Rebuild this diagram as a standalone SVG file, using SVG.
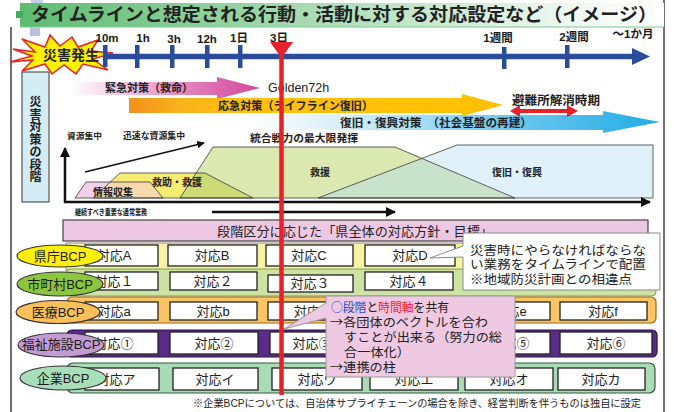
<svg xmlns="http://www.w3.org/2000/svg" width="674" height="412" viewBox="0 0 674 412">
<defs>
  <linearGradient id="gTitle" x1="0" y1="0" x2="1" y2="0">
    <stop offset="0" stop-color="#5dbb70"/>
    <stop offset="0.45" stop-color="#a9dbb3"/>
    <stop offset="0.85" stop-color="#eef8f0"/>
    <stop offset="1" stop-color="#ffffff"/>
  </linearGradient>
  <linearGradient id="gKin" gradientUnits="userSpaceOnUse" x1="70" y1="0" x2="260" y2="0">
    <stop offset="0" stop-color="#ffffff"/>
    <stop offset="0.3" stop-color="#f2c2dd"/>
    <stop offset="0.7" stop-color="#df74b5"/>
    <stop offset="1" stop-color="#d4479d"/>
  </linearGradient>
  <linearGradient id="gOu" gradientUnits="userSpaceOnUse" x1="129" y1="0" x2="503" y2="0">
    <stop offset="0" stop-color="#f2901e"/>
    <stop offset="0.15" stop-color="#fab51a"/>
    <stop offset="0.35" stop-color="#fec10c"/>
    <stop offset="1" stop-color="#ffc000"/>
  </linearGradient>
  <linearGradient id="gFu" gradientUnits="userSpaceOnUse" x1="250" y1="0" x2="660" y2="0">
    <stop offset="0" stop-color="#ffffff"/>
    <stop offset="0.25" stop-color="#d2ecf8"/>
    <stop offset="0.6" stop-color="#74caef"/>
    <stop offset="1" stop-color="#22ade5"/>
  </linearGradient>
  <marker id="ah" viewBox="0 0 10 10" refX="9" refY="5" markerWidth="4" markerHeight="4" orient="auto">
    <path d="M0,0 L10,5 L0,10 z" fill="#111"/>
  </marker>
  <marker id="ah2" viewBox="0 0 10 10" refX="9" refY="5" markerWidth="5" markerHeight="5" orient="auto">
    <path d="M0,0 L10,5 L0,10 z" fill="#111"/>
  </marker>
</defs>
<style>
  text { font-family: "Liberation Sans", "Noto Sans CJK JP", sans-serif; fill: #222; }
  .cjk { font-family: "Noto Sans CJK JP", sans-serif; }
  .b { font-weight: bold; }
  .box { fill: #ffffff; stroke: #222; stroke-width: 1.3; }
  .bt { font-size: 13px; text-anchor: middle; }
  .ell { stroke: #333; stroke-width: 1.2; }
  .et { font-size: 13px; text-anchor: middle; fill: #1a1a1a; }
  .tick { fill: #2b4c9b; }
  .tl { font-size: 11.5px; font-weight: bold; text-anchor: middle; fill: #1a1a1a; }
  .shp { stroke: #3a3a3a; stroke-width: 0.8; fill: none; }
  .sl { font-size: 10px; font-weight: bold; text-anchor: middle; fill: #222; }
  .ax { stroke: #111; fill: none; }
</style>

<rect x="0" y="0" width="674" height="412" fill="#ffffff"/>

<!-- frame -->
<g id="frame">
  <line x1="11" y1="27" x2="11" y2="412" stroke="#111" stroke-width="1.2"/>
  <line x1="664" y1="0" x2="664" y2="412" stroke="#111" stroke-width="1.2"/>
</g>

<!-- title -->
<g id="title">
  <rect x="31" y="0" width="12" height="8" fill="#c9cde6"/>
  <rect x="20" y="3" width="644" height="24" fill="url(#gTitle)"/>
  <line x1="20" y1="27" x2="664" y2="27" stroke="#7cc88c" stroke-width="1"/>
  <rect x="30" y="27" width="10" height="9" fill="#b9c3dc"/>
  <rect x="16" y="11" width="7" height="7" fill="#3fae5a"/>
  <text x="31" y="21" class="b" font-size="18" fill="#1a1a3a" textLength="626" lengthAdjust="spacingAndGlyphs">タイムラインと想定される行動・活動に対する対応設定など（イメージ）</text>
</g>

<!-- disaster star -->
<g id="disaster">
  <polygon points="13,49 35,52 22,39 45,47 50,35 60,46 72,37 78,47 98,40 91,51 113,53 93,59 108,70 83,64 76,74 64,65 52,74 45,64 22,71 33,60 10,62 32,56" fill="#fff200" stroke="#e8202a" stroke-width="1.5" stroke-linejoin="miter"/>
  <text x="71" y="60" class="b" font-size="14" text-anchor="middle" fill="#1a1a1a">災害発生</text>
</g>

<!-- timeline -->
<g id="timeline">
  <line x1="105" y1="56.5" x2="634" y2="56.5" stroke="#2b4c9b" stroke-width="5.5"/>
  <polygon points="632,48 650,56.5 632,65" fill="#2b4c9b"/>
  <rect class="tick" x="103" y="45" width="4.5" height="22"/>
  <rect class="tick" x="135" y="45" width="4.5" height="23"/>
  <rect class="tick" x="170" y="45" width="4.5" height="23"/>
  <rect class="tick" x="205" y="45" width="4.5" height="23"/>
  <rect class="tick" x="238" y="45" width="4.5" height="23"/>
  <rect class="tick" x="502" y="47" width="4.5" height="22"/>
  <rect class="tick" x="565" y="45" width="4.5" height="23"/>
  <text class="tl" x="107" y="42">10m</text>
  <text class="tl" x="143" y="42">1h</text>
  <text class="tl" x="174" y="43">3h</text>
  <text class="tl" x="207" y="43">12h</text>
  <text class="tl" x="239" y="42">1日</text>
  <text class="tl" x="279" y="42">3日</text>
  <text class="tl" x="498" y="42">1週間</text>
  <text class="tl" x="574" y="41">2週間</text>
  <text class="tl" x="633" y="38">～1か月</text>
</g>

<!-- sidebar -->
<g id="sidebar">
  <rect x="22" y="72" width="27" height="130" fill="#d4ecf4" stroke="#555" stroke-width="1.2"/>
  <g class="b" font-size="12" text-anchor="middle">
    <text x="35.5" y="106" fill="#3a4660">災</text>
    <text x="35.5" y="119" fill="#3a4660">害</text>
    <text x="35.5" y="131" fill="#3a4660">対</text>
    <text x="35.5" y="144" fill="#3a4660">策</text>
    <text x="35.5" y="156" fill="#3a4660">の</text>
    <text x="35.5" y="169" fill="#3a4660">段</text>
    <text x="35.5" y="181" fill="#3a4660">階</text>
  </g>
</g>

<!-- phase arrows -->
<g id="phase-fukkyu">
  <path d="M250,115 L603,115 L603,111 L660,122 L603,133 L603,130 L250,130 Z" fill="url(#gFu)"/>
  <text x="340" y="126.5" class="b" font-size="11.5" textLength="192" lengthAdjust="spacingAndGlyphs">復旧・復興対策　（社会基盤の再建）</text>
</g>
<g id="phase-kinkyu">
  <path d="M70,82 L217,82 L217,77 L260,88 L217,99 L217,95 L70,95 Z" fill="url(#gKin)"/>
  <text x="105" y="92" class="b" font-size="11" textLength="88" lengthAdjust="spacingAndGlyphs" fill="#333">緊急対策（救命）</text>
</g>
<g id="golden">
  <text x="268" y="92" font-size="12.5" fill="#1a1a1a">Golden72h</text>
</g>
<g id="phase-oukyu">
  <path d="M129,98 L462,98 L462,94 L503,105 L462,116 L462,113 L129,113 Z" fill="url(#gOu)"/>
  <text x="218" y="109.5" class="b" font-size="11.5" textLength="155" lengthAdjust="spacingAndGlyphs" fill="#2a2a2a">応急対策（ライフライン復旧）</text>
</g>
<g id="hinan">
  <text x="512" y="104.5" class="b" font-size="12.5" textLength="88" lengthAdjust="spacingAndGlyphs" fill="#1a1a1a">避難所解消時期</text>
  <path d="M510,111 L520,105 L520,109 L567,109 L567,105 L578,111 L567,117 L567,113 L520,113 L520,117 Z" fill="#e8202a"/>
</g>

<!-- stage labels -->
<g id="stage-labels">
  <text x="67" y="139" class="b" font-size="8.5" textLength="35" lengthAdjust="spacingAndGlyphs">資源集中</text>
  <text x="123" y="139" class="b" font-size="8.8" textLength="62" lengthAdjust="spacingAndGlyphs">迅速な資源集中</text>
  <text x="250" y="141.5" class="b" font-size="10.5" textLength="108" lengthAdjust="spacingAndGlyphs">統合戦力の最大限発揮</text>
</g>

<!-- phase shapes -->
<g id="shapes">
  <polygon points="93,198 120,173 205,173 253,198" fill="#f6ec72"/>
  <polygon points="75,198 86,182 150,182 163,198" fill="#f0d0ea"/>
  <polygon points="93,198 110.3,182 150,182 163,198" fill="#f8d9ae"/>
  <polygon points="180,198 213,147 395,147 515,198" fill="#dbe8b0"/>
  <polygon points="180,198 196.2,173 205,173 253,198" fill="#ccdb76"/>
  <polygon points="318,198 457,145 653,145 653,198" fill="#e0f1f9"/>
  <polygon points="318,198 421.8,158.4 515,198" fill="#c9e2cc"/>
  <polygon class="shp" points="93,198 120,173 205,173 253,198"/>
  <polygon class="shp" points="75,198 86,182 150,182 163,198"/>
  <polygon class="shp" points="180,198 213,147 395,147 515,198"/>
  <polygon class="shp" points="318,198 457,145 653,145 653,198"/>
  <text class="sl" x="113" y="195.5" font-size="10.5">情報収集</text>
  <text class="sl" x="177" y="185.5">救助・救護</text>
  <text class="sl" x="320" y="175.5">救援</text>
  <text class="sl" x="517" y="175.5">復旧・復興</text>
</g>

<!-- connectors: axes and arrows -->
<g id="connectors">
  <line class="ax" x1="65" y1="203" x2="65" y2="148" stroke-width="2.5" marker-end="url(#ah)"/>
  <line class="ax" x1="64" y1="202" x2="650" y2="202" stroke-width="2.5" marker-end="url(#ah)"/>
  <line class="ax" x1="85" y1="172" x2="204" y2="143" stroke-width="1.5" marker-end="url(#ah2)"/>
  <line class="ax" x1="212" y1="212" x2="395" y2="212" stroke-width="2.5" marker-end="url(#ah)"/>
</g>
<g id="keizoku">
  <text x="75" y="215" class="b" font-size="8.5" textLength="72" lengthAdjust="spacingAndGlyphs">継続すべき重要な通常業務</text>
</g>

<!-- policy box -->
<g id="policy">
  <rect x="63" y="220" width="585" height="21" fill="#eec8e2" stroke="#444" stroke-width="1.2"/>
  <text x="355" y="235.5" font-size="13" text-anchor="middle" textLength="276" lengthAdjust="spacingAndGlyphs">段階区分に応じた「県全体の対応方針・目標」</text>
</g>

<!-- row bands -->
<g id="bands">
  <rect x="66" y="243" width="590" height="27" fill="#f7f3a3" stroke="#777" stroke-width="0.8"/>
  <rect x="66" y="269" width="590" height="27" rx="4" fill="#cde3a3" stroke="#6c8a40" stroke-width="0.8"/>
  <rect x="67" y="297" width="589" height="26" rx="5" fill="#fcc463" stroke="#9a6a10" stroke-width="1.2"/>
  <rect x="67" y="330" width="590" height="27" rx="5" fill="#5c2a88" stroke="#2a1040" stroke-width="1.2"/>
  <rect x="67" y="363" width="588" height="30" rx="6" fill="#a9dbb5" stroke="#2f5c3c" stroke-width="1.2"/>
</g>

<!-- row 1 -->
<g id="row-kencho">
  <rect class="box" x="85" y="245" width="73" height="21"/><text class="bt" x="114" y="260">対応A</text>
  <rect class="box" x="168" y="245" width="89" height="21"/><text class="bt" x="212" y="260">対応B</text>
  <rect class="box" x="266" y="245" width="87" height="21"/><text class="bt" x="309" y="260">対応C</text>
  <rect class="box" x="365" y="245" width="90" height="21"/><text class="bt" x="410" y="260">対応D</text>
</g>
<!-- row 2 -->
<g id="row-shichoson">
  <rect class="box" x="85" y="272" width="73" height="18"/><text class="bt" x="114" y="285.5">対応１</text>
  <rect class="box" x="170" y="272" width="87" height="18"/><text class="bt" x="213" y="285.5">対応２</text>
  <rect class="box" x="268" y="275" width="85" height="17"/><text class="bt" x="310" y="288">対応３</text>
  <rect class="box" x="365" y="272" width="88" height="18"/><text class="bt" x="409" y="285.5">対応４</text>
</g>
<!-- row 3 -->
<g id="row-iryo">
  <rect class="box" x="85" y="302" width="73" height="18"/><text class="bt" x="114" y="315.5">対応a</text>
  <rect class="box" x="170" y="302" width="87" height="18"/><text class="bt" x="213" y="315.5">対応b</text>
  <rect class="box" x="268" y="302" width="88" height="18"/><text class="bt" x="310" y="315.5">対応c</text>
  <rect class="box" x="365" y="302" width="88" height="18"/>
  <rect class="box" x="462" y="302" width="88" height="18"/><text class="bt" x="510" y="315.5">対応e</text>
  <rect class="box" x="560" y="302" width="87" height="18"/><text class="bt" x="603" y="315.5">対応f</text>
</g>
<!-- row 4 -->
<g id="row-fukushi">
  <rect class="box" x="85" y="332" width="73" height="22"/><text class="bt" x="114" y="347.5">対応①</text>
  <rect class="box" x="170" y="332" width="88" height="22"/><text class="bt" x="214" y="347.5">対応②</text>
  <rect class="box" x="270" y="332" width="88" height="22"/><text class="bt" x="312" y="347.5">対応③</text>
  <rect class="box" x="366" y="332" width="88" height="22"/>
  <rect class="box" x="462" y="332" width="88" height="22"/><text class="bt" x="510" y="347.5">対応⑤</text>
  <rect class="box" x="560" y="332" width="92" height="22"/><text class="bt" x="606" y="347.5">対応⑥</text>
</g>
<!-- row 5 -->
<g id="row-kigyo">
  <rect class="box" x="85" y="368" width="74" height="22"/><text class="bt" x="116" y="383.5">対応ア</text>
  <rect class="box" x="173" y="368" width="85" height="22"/><text class="bt" x="215" y="383.5">対応イ</text>
  <rect class="box" x="272" y="368" width="90" height="22"/><text class="bt" x="317" y="383.5">対応ウ</text>
  <rect class="box" x="370" y="368" width="88" height="22"/><text class="bt" x="414" y="383.5">対応エ</text>
  <rect class="box" x="465" y="368" width="88" height="22"/><text class="bt" x="509" y="383.5">対応オ</text>
  <rect class="box" x="558" y="368" width="87" height="22"/><text class="bt" x="601" y="383.5">対応カ</text>
</g>

<!-- BCP ellipses -->
<g id="bcp-kencho">
  <ellipse class="ell" cx="60" cy="256" rx="43" ry="11" fill="#fff000"/>
  <text class="et" x="60" y="260.5">県庁BCP</text>
</g>
<g id="bcp-shichoson">
  <ellipse class="ell" cx="60" cy="284" rx="43" ry="12" fill="#8cc63f"/>
  <text class="et" x="60" y="288.5">市町村BCP</text>
</g>
<g id="bcp-iryo">
  <ellipse class="ell" cx="58" cy="312" rx="42" ry="11.5" fill="#fbc05a"/>
  <text class="et" x="58" y="316.5">医療BCP</text>
</g>
<g id="bcp-fukushi">
  <ellipse class="ell" cx="61" cy="345" rx="43" ry="12" fill="#c39bd3"/>
  <text class="et" x="61" y="348.5" font-size="10">福祉施設BCP</text>
</g>
<g id="bcp-kigyo">
  <ellipse class="ell" cx="63" cy="378" rx="43" ry="12" fill="#a8dfb9"/>
  <text class="et" x="63" y="382.5">企業BCP</text>
</g>

<!-- red time marker -->
<g id="marker-3days">
  <line x1="281.5" y1="52" x2="281.5" y2="395" stroke="#e8202a" stroke-width="4.5"/>
  <polygon points="270,42 293,42 281.5,58" fill="#e8202a"/>
</g>

<!-- callout 1 -->
<g id="callout-timeline">
  <path d="M463,233 H660 V290 H463 V257 L430,258 L463,246 Z" fill="#ffffff" stroke="#8a8a8a" stroke-width="1"/>
  <g font-size="12.5" fill="#1a1a1a">
    <text class="cjk" x="470" y="254.5" textLength="176" lengthAdjust="spacingAndGlyphs">災害時にやらなければならな</text>
    <text class="cjk" x="470" y="269" textLength="176" lengthAdjust="spacingAndGlyphs">い業務をタイムラインで配置</text>
    <text class="cjk" x="470" y="283.5" textLength="162" lengthAdjust="spacingAndGlyphs">※地域防災計画との相違点</text>
  </g>
</g>

<!-- callout 2 -->
<g id="callout-share">
  <path d="M326,296 H515 V377 H326 V318 L284,329 L326,303 Z" fill="#efc9e2" stroke="#9a9a9a" stroke-width="1"/>
  <g font-size="12.5">
    <text class="cjk" x="331" y="311.5" textLength="118" lengthAdjust="spacingAndGlyphs"><tspan fill="#2a48c8">○段階</tspan><tspan fill="#222">と</tspan><tspan fill="#ff2020">時間軸</tspan><tspan fill="#222">を共有</tspan></text>
    <text class="cjk" x="330" y="326.5" textLength="158" lengthAdjust="spacingAndGlyphs">→各団体のベクトルを合わ</text>
    <text class="cjk" x="344" y="342" textLength="158" lengthAdjust="spacingAndGlyphs">すことが出来る（努力の総</text>
    <text class="cjk" x="344" y="357" textLength="66" lengthAdjust="spacingAndGlyphs">合一体化）</text>
    <text class="cjk" x="330" y="372" textLength="66" lengthAdjust="spacingAndGlyphs">→連携の柱</text>
  </g>
</g>

<!-- footnote -->
<g id="footnote">
  <text x="193" y="406.5" font-size="10" fill="#2a3ea0" textLength="448" lengthAdjust="spacingAndGlyphs">※企業BCPについては、自治体サプライチェーンの場合を除き、経営判断を伴うものは独自に設定</text>
</g>
</svg>
